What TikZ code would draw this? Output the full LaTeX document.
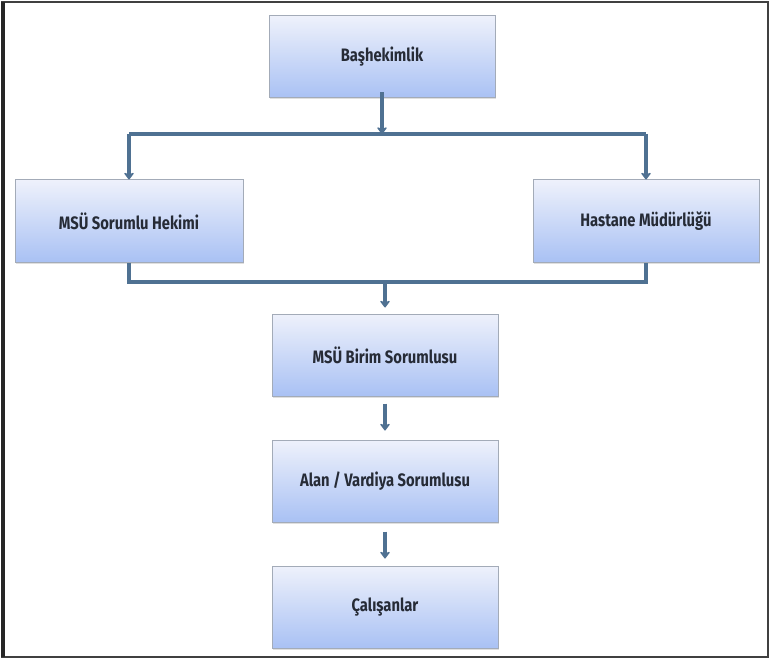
\documentclass[tikz,border=0pt]{standalone}
\usepackage{fontspec}
\setmainfont{Fira Sans}[FakeStretch=0.82]
\usetikzlibrary{arrows.meta, positioning, shadows}
\definecolor{boxedge}{HTML}{A3ABB8}
\definecolor{boxtop}{HTML}{EEF1FB}
\definecolor{boxbottom}{HTML}{A9C1F4}
\definecolor{linkblue}{HTML}{4F7192}
\definecolor{labelink}{HTML}{262B36}
\tikzset{
  orgbox/.style={draw=boxedge, line width=1pt, top color=boxtop, bottom color=boxbottom,
    minimum width=226pt, minimum height=82pt, align=center, text=labelink,
    font=\fontsize{18}{20}\selectfont\bfseries,
    drop shadow={shadow xshift=1pt, shadow yshift=-1.5pt, opacity=0.25}},
  link/.style={linkblue, line width=3.4pt},
  linkarrow/.style={link, -{Stealth[length=8pt, width=12pt, round]}}
}
\begin{document}
\begin{tikzpicture}[x=1pt, y=-1pt, node distance=43pt]
\useasboundingbox (0,0) rectangle (770,660);
\fill[white] (0,0) rectangle (770,660);
\draw[black!75, line width=2.5pt] (2,2) rectangle (768,657);
\draw[black!85, line width=4pt] (3,2) -- (3,657);
\node[orgbox] (bash) at (382,57) {Başhekimlik};
\node[orgbox, minimum width=228pt] (hekim) at (129,221) {MSÜ Sorumlu Hekimi};
\node[orgbox] (mudur) at (646,221) {Hastane Müdürlüğü};
\node[orgbox] (birim) at (385,355) {MSÜ Birim Sorumlusu};
\node[orgbox, below=of birim] (alan) {Alan / Vardiya Sorumlusu};
\node[orgbox, below=of alan] (calis) {Çalışanlar};
% Başhekimlik splits to both sides
\coordinate (split) at (bash.center |- 0,134);
\draw[linkarrow] (bash.south) ++(0,6pt) coordinate (bashout) -- (split);
\draw[link] (hekim.center |- split) -- (mudur.center |- split);
\foreach \n in {hekim, mudur}
  \draw[linkarrow] (\n.center |- split) -- ++(0,26) coordinate (\n-in) -- (\n-in |- \n.north);
% both sides join into Birim
\coordinate (join) at (birim.center |- 0,282);
\draw[link] (hekim.south) -- (hekim.center |- join) -- (mudur.center |- join) -- (mudur.south);
\draw[linkarrow] (join) -- ([yshift=6pt]birim.north);
\draw[linkarrow] ([yshift=-7pt]birim.south) -- ([yshift=9pt]alan.north);
\draw[linkarrow] ([yshift=-9pt]alan.south) -- ([yshift=7pt]calis.north);
\end{tikzpicture}
\end{document}
